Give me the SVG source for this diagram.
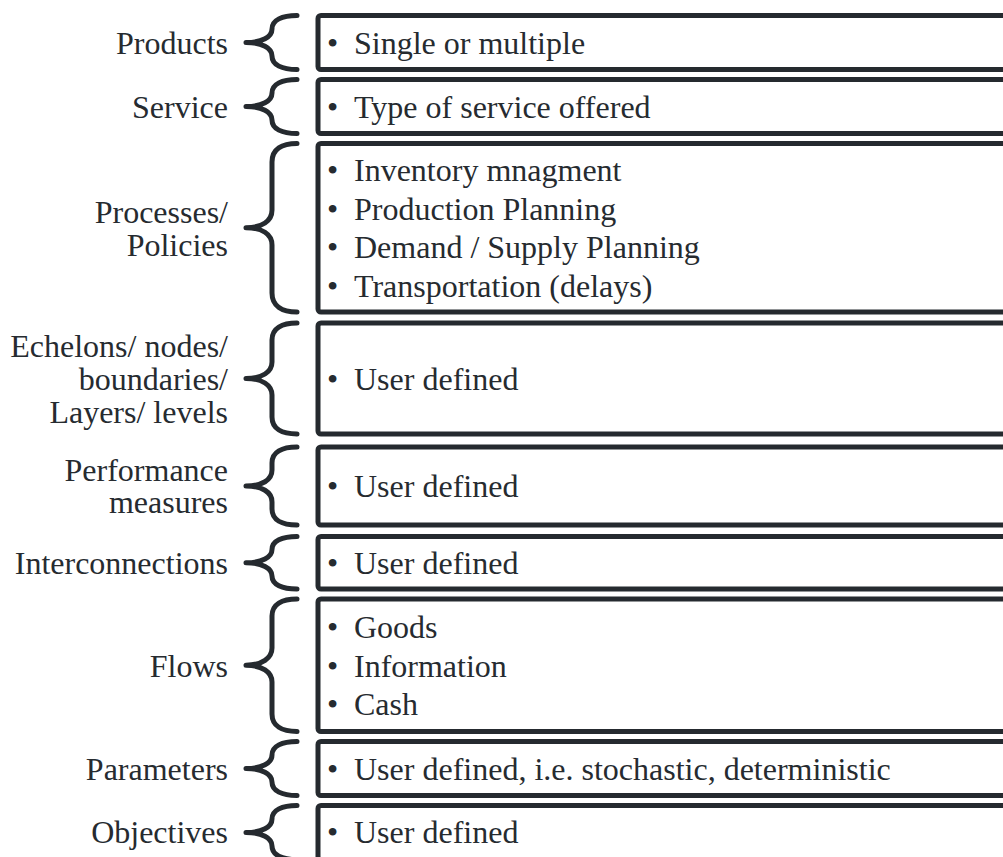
<svg xmlns="http://www.w3.org/2000/svg" width="1003" height="857" viewBox="0 0 1003 857">
<style>
  text { fill: #262b30; }
  .lbl { text-anchor: end; }
  .box { fill: #ffffff; stroke: #252a2f; stroke-width: 5; }
  .brace { fill: none; stroke: #252a2f; stroke-width: 5; stroke-linecap: round; stroke-linejoin: round; }
</style>
<rect x="0" y="0" width="1003" height="857" fill="#ffffff"/>

<g id="connectors">
  <path class="brace" d="M297,15.5 C282,15.5 272,20 272,29 C272,37 262,42.5 246,42.5 C262,42.5 272,48 272,56 C272,65 282,69.5 297,69.5"/>
  <path class="brace" d="M297,79.5 C282,79.5 272,84 272,93 C272,101 262,106.5 246,106.5 C262,106.5 272,112 272,120 C272,129 282,133.5 297,133.5"/>
  <path class="brace" d="M297,143.5 C282,143.5 272,149 272,162 L272,210 C272,221 262,227.75 246,227.75 C262,227.75 272,234 272,245 L272,293 C272,306 282,312 297,312"/>
  <path class="brace" d="M297,323 C282,323 272,328 272,340 L272,362 C272,372 262,378.5 246,378.5 C262,378.5 272,385 272,395 L272,417 C272,429 282,434 297,434"/>
  <path class="brace" d="M297,447 C282,447 272,452 272,463 L272,470 C272,480 262,486 246,486 C262,486 272,492 272,502 L272,509 C272,520 282,525 297,525"/>
  <path class="brace" d="M297,536.5 C282,536.5 272,541 272,549.5 C272,557 262,562.75 246,562.75 C262,562.75 272,568.5 272,576 C272,584.5 282,589 297,589"/>
  <path class="brace" d="M297,599 C282,599 272,604 272,616 L272,648 C272,658 262,665.25 246,665.25 C262,665.25 272,672 272,682 L272,714 C272,726 282,731.5 297,731.5"/>
  <path class="brace" d="M297,741.5 C282,741.5 272,746 272,755 C272,763 262,768.5 246,768.5 C262,768.5 272,774 272,782 C272,791 282,795.5 297,795.5"/>
  <path class="brace" d="M297,805.5 C282,805.5 272,810 272,819 C272,827 262,832.5 246,832.5 C262,832.5 272,838 272,846 C272,855 282,859.5 297,859.5"/>
</g>

<g font-family="Liberation Serif, Tinos, Times New Roman, serif" font-size="32">
<g id="products">
  <text class="lbl" x="228" y="53.5">Products</text>
  <rect class="box" x="318" y="15.5" width="700" height="54" rx="3"/>
  <text y="53.5"><tspan x="327">•</tspan><tspan x="354">Single or multiple</tspan></text>
</g>

<g id="service">
  <text class="lbl" x="228" y="117.5">Service</text>
  <rect class="box" x="318" y="79.5" width="700" height="54" rx="3"/>
  <text y="117.5"><tspan x="327">•</tspan><tspan x="354">Type of service offered</tspan></text>
</g>

<g id="processes">
  <text class="lbl" x="228" y="222.5">Processes/</text>
  <text class="lbl" x="228" y="255.5">Policies</text>
  <rect class="box" x="318" y="143.5" width="700" height="168.5" rx="3"/>
  <text y="181"><tspan x="327">•</tspan><tspan x="354">Inventory mnagment</tspan></text>
  <text y="219.5"><tspan x="327">•</tspan><tspan x="354">Production Planning</tspan></text>
  <text y="258"><tspan x="327">•</tspan><tspan x="354">Demand / Supply Planning</tspan></text>
  <text y="296.5"><tspan x="327">•</tspan><tspan x="354">Transportation (delays)</tspan></text>
</g>

<g id="echelons">
  <text class="lbl" x="228" y="356.5">Echelons/ nodes/</text>
  <text class="lbl" x="228" y="389.5">boundaries/</text>
  <text class="lbl" x="228" y="422.5">Layers/ levels</text>
  <rect class="box" x="318" y="323" width="700" height="111" rx="3"/>
  <text y="389.5"><tspan x="327">•</tspan><tspan x="354">User defined</tspan></text>
</g>

<g id="performance">
  <text class="lbl" x="228" y="480.5">Performance</text>
  <text class="lbl" x="228" y="513">measures</text>
  <rect class="box" x="318" y="447" width="700" height="78" rx="3"/>
  <text y="497"><tspan x="327">•</tspan><tspan x="354">User defined</tspan></text>
</g>

<g id="interconnections">
  <text class="lbl" x="228" y="574">Interconnections</text>
  <rect class="box" x="318" y="536.5" width="700" height="52.5" rx="3"/>
  <text y="574"><tspan x="327">•</tspan><tspan x="354">User defined</tspan></text>
</g>

<g id="flows">
  <text class="lbl" x="228" y="676.5">Flows</text>
  <rect class="box" x="318" y="599" width="700" height="132.5" rx="3"/>
  <text y="638"><tspan x="327">•</tspan><tspan x="354">Goods</tspan></text>
  <text y="676.5"><tspan x="327">•</tspan><tspan x="354">Information</tspan></text>
  <text y="715"><tspan x="327">•</tspan><tspan x="354">Cash</tspan></text>
</g>

<g id="parameters">
  <text class="lbl" x="228" y="779.5">Parameters</text>
  <rect class="box" x="318" y="741.5" width="700" height="54" rx="3"/>
  <text y="779.5"><tspan x="327">•</tspan><tspan x="354">User defined, i.e. stochastic, deterministic</tspan></text>
</g>

<g id="objectives">
  <text class="lbl" x="228" y="843">Objectives</text>
  <rect class="box" x="318" y="805.5" width="700" height="54" rx="3"/>
  <text y="843"><tspan x="327">•</tspan><tspan x="354">User defined</tspan></text>
</g>
</g>
</svg>
